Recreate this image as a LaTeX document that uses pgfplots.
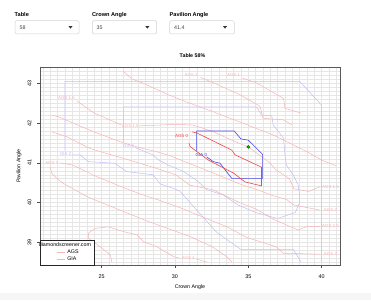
\documentclass[border=0pt]{standalone}
\usepackage{pgfplots}
\pgfplotsset{compat=1.18}
\usepackage{fontspec}
\setmainfont{Liberation Sans}
\definecolor{fr}{RGB}{247,180,180}
\definecolor{fb}{RGB}{192,192,245}
\definecolor{br}{RGB}{236,70,70}
\definecolor{bb}{RGB}{70,70,226}
\definecolor{gridc}{RGB}{230,230,230}
\definecolor{boxc}{RGB}{210,210,210}
\begin{document}
\begin{tikzpicture}
\begin{scope}[x=1pt,y=1pt]
\useasboundingbox (0,0) rectangle (371,300);
\fill[gray!7] (0,0) rectangle (371,7.5);
% widgets
\begin{scope}[every node/.style={inner sep=0pt}]
\node[anchor=west,font=\fontsize{5.6}{6}\selectfont\bfseries] at (14.5,285.2) {Table};
\node[anchor=west,font=\fontsize{5.6}{6}\selectfont\bfseries] at (92,285.2) {Crown Angle};
\node[anchor=west,font=\fontsize{5.6}{6}\selectfont\bfseries] at (169.5,285.2) {Pavilion Angle};
\draw[boxc,rounded corners=1.5pt,line width=0.5pt] (15,266) rectangle (79,279.3);
\draw[boxc,rounded corners=1.5pt,line width=0.5pt] (92.3,266) rectangle (156.7,279.3);
\draw[boxc,rounded corners=1.5pt,line width=0.5pt] (169.5,266) rectangle (234.3,279.3);
\node[anchor=west,font=\fontsize{5.3}{6}\selectfont,text=black!75] at (19.5,272.6) {58};
\node[anchor=west,font=\fontsize{5.3}{6}\selectfont,text=black!75] at (96.5,272.6) {35};
\node[anchor=west,font=\fontsize{5.3}{6}\selectfont,text=black!75] at (174,272.6) {41.4};
\fill[black!80] (68.5,273.8) -- (72.5,273.8) -- (70.5,271.4) -- cycle;
\fill[black!80] (145.3,273.8) -- (149.3,273.8) -- (147.3,271.4) -- cycle;
\fill[black!80] (223,273.8) -- (227,273.8) -- (225,271.4) -- cycle;
\node[font=\fontsize{5.3}{6}\selectfont\bfseries] at (192.5,244) {Table 58\%};
\end{scope}
\end{scope}
\begin{axis}[
  at={(40pt,35pt)}, anchor=south west, scale only axis,
  width=300pt, height=198pt,
  xmin=20.8, xmax=41.25, ymin=38.43, ymax=43.41,
  xtick={25,30,35,40}, ytick={39,40,41,42,43},
  minor xtick={21,21.5,...,41},
  minor ytick={38.5,38.6,...,43.35},
  grid=both,
  major grid style={gridc,line width=0.45pt},
  minor grid style={gridc,line width=0.45pt},
  tick align=outside, major tick length=3pt, minor tick length=0pt,
  xtick pos=lower, ytick pos=left,
  tick style={black!70,line width=0.4pt},
  axis line style={black!65,line width=0.6pt},
  /pgf/number format/assume math mode=true,
  ticklabel style={font=\fontsize{5.4}{6}\selectfont},
  xticklabel shift=3pt,
  yticklabel style={rotate=90,anchor=south},
  yticklabel shift=2pt,
  xlabel={Crown Angle}, ylabel={Pavilion Angle},
  xlabel style={font=\fontsize{5.3}{6}\selectfont, at={([yshift=-22.3pt]axis description cs:0.5,0)}, anchor=center},
  ylabel style={font=\fontsize{5.3}{6}\selectfont, at={([xshift=-21pt]axis description cs:0,0.5)}, anchor=center},
  legend style={at={(axis description cs:0,0)}, anchor=south west, draw=black!85, fill=white,
     font=\fontsize{5.3}{5.6}\selectfont, inner sep=0.8pt, row sep=-2.2pt, line width=0.5pt},
  legend cell align=left,
  legend image code/.code={\draw[#1,line width=0.6pt] (16pt,0pt) -- (24pt,0pt);},
]
\addlegendimage{empty legend}
\addlegendentry{\hspace*{-28.5pt}diamondscreener.com}
\addlegendimage{fr}
\addlegendentry{AGS}
\addlegendimage{fb}
\addlegendentry{GIA}

% faint GIA contours
\addplot[fb,line width=0.5pt,forget plot] coordinates {(40.0,38.5)(40.0,42.45)(38.5,43.05)(22.5,43.05)(22.5,41.32)};
\addplot[fb,line width=0.5pt,forget plot] coordinates {(23.0,41.2)(23.53,41.2)(24.1,41.03)(25.9,40.99)(26.7,40.78)(28.5,40.7)(29.0,40.47)(30.3,40.3)(32.85,39.25)(34.5,38.82)(38.07,38.82)(38.6,38.5)};
\addplot[fb,line width=0.5pt,forget plot] coordinates {(26.5,41.52)(26.5,42.41)(35.57,42.41)(35.9,42.2)(36.6,42.18)(36.7,41.95)(37.4,41.62)(37.5,41.2)(37.6,40.94)(38.07,40.69)(38.4,40.44)(38.5,40.2)(38.5,40.0)(38.2,39.75)(37.0,39.6)(35.5,39.75)(34.3,39.94)(33.3,40.19)(32.2,40.32)(31.5,40.55)(30.6,40.78)(29.5,40.95)(28.9,41.07)(28.5,41.2)(27.3,41.38)};

% faint AGS contours
\addplot[fr,line width=0.5pt,forget plot] coordinates {(26.5,43.3)(27.05,43.11)(27.85,43.0)(29.5,42.72)(31.0,42.5)(32.5,42.3)(34.4,42.03)(36.7,41.7)(39.0,41.28)(40.0,41.07)(41.0,40.92)};
\addplot[fr,line width=0.5pt,forget plot] coordinates {(31.75,43.15)(33.0,42.95)(34.4,42.72)(35.8,42.42)(36.0,42.12)(37.4,42.08)(38.0,41.95)};
\addplot[fr,line width=0.5pt,forget plot] coordinates {(34.6,43.13)(35.5,43.02)(37.4,42.62)(37.5,42.37)(38.6,42.25)};
\addplot[fr,line width=0.5pt,forget plot] coordinates {(23.3,42.56)(24.5,42.25)(25.0,42.17)(26.35,41.95)};
\addplot[fr,line width=0.5pt,forget plot] coordinates {(27.55,41.93)(29.0,41.95)(30.0,41.97)(31.2,41.95)(32.5,41.8)(34.0,41.55)(35.0,41.4)(36.4,41.02)(36.9,40.82)(37.8,40.6)(38.1,40.35)(39.1,40.28)(39.9,40.4)};
\addplot[fr,line width=0.5pt,forget plot] coordinates {(21.6,42.2)(22.05,42.16)(24.45,41.78)(26.5,41.5)(27.6,41.38)(28.75,41.28)(29.66,41.18)(31.0,40.98)(32.5,40.76)(34.4,40.47)(35.8,40.3)(36.7,40.17)(37.6,40.08)(38.1,39.94)(39.9,39.81)};
\addplot[fr,line width=0.5pt,forget plot] coordinates {(21.6,41.78)(22.6,41.66)(24.2,41.36)(26.5,41.11)(27.6,40.99)(28.75,40.86)(30.1,40.69)(31.0,40.44)(32.6,40.32)(34.4,40.0)(35.57,39.83)(36.7,39.58)(38.4,39.31)(39.0,39.4)(39.9,39.4)};
\addplot[fr,line width=0.5pt,forget plot] coordinates {(22.15,41.0)(23.07,40.94)(24.5,40.68)(26.0,40.45)(27.6,40.22)(29.0,40.05)(30.5,39.85)(32.0,39.62)(33.5,39.4)(34.9,39.12)(36.9,38.89)(37.4,38.72)(38.1,38.72)(39.9,38.7)};
\addplot[fr,line width=0.5pt,forget plot] coordinates {(21.5,40.9)(21.6,40.74)(21.94,40.61)(22.4,40.48)(24.0,40.15)(26.0,39.85)(28.0,39.55)(29.5,39.35)(31.0,39.15)(32.5,38.9)(33.5,38.65)(33.9,38.5)};
\addplot[fr,line width=0.5pt,forget plot] coordinates {(25.7,38.5)(25.6,38.68)(24.9,38.89)(24.1,39.1)(24.1,39.23)(24.55,39.35)(25.46,39.39)(26.5,39.27)(27.4,39.19)(27.85,39.02)(28.76,38.89)(29.9,38.64)(30.35,38.6)};
\addplot[fr,line width=0.5pt,forget plot] coordinates {(31.45,38.58)(32.2,38.5)};

% highlighted contours
\addplot[bb,line width=0.6pt,forget plot] coordinates {(32.16,41.15)(32.61,41.03)(33.07,40.99)(33.87,40.61)(35.98,40.61)(35.98,41.21)(35.0,41.57)(34.5,41.6)(34.04,41.80)(31.48,41.80)(31.48,41.3)};
\addplot[br,line width=0.6pt,forget plot] coordinates {(31.15,41.78)(31.5,41.75)(33.87,41.32)(34.1,41.2)(35.9,40.89)(35.9,40.42)(34.77,40.52)(34.0,40.74)(32.27,41.07)(31.03,41.41)(30.95,41.5)};

% selected point
\addplot[only marks,mark=*,mark size=1.5pt,mark options={fill=green!75!black,draw=green!35!black,line width=0.4pt},forget plot] coordinates {(35,41.4)};

% contour labels
\begin{scope}[every node/.style={font=\fontsize{4.4}{5}\selectfont,inner sep=0pt}]
\node[text=fr] at (axis cs:22.6,42.62) {AGS 1.5};
\node[text=fr] at (axis cs:26.95,41.93) {AGS 1.5};
\node[text=fr] at (axis cs:21.6,41.0) {AGS 3};
\node[text=fr] at (axis cs:31.1,43.2) {AGS 2};
\node[text=fr] at (axis cs:34.0,43.2) {AGS 1};
\node[text=fr] at (axis cs:40.6,40.4) {AGS 1.5};
\node[text=fr] at (axis cs:40.6,39.81) {AGS 2};
\node[text=fr] at (axis cs:40.6,39.4) {AGS 2.5};
\node[text=fr] at (axis cs:40.6,38.7) {AGS 3};
\node[text=fr] at (axis cs:30.9,38.6) {AGS 4};
\node[text=fb] at (axis cs:22.55,41.22) {GIA 2};
\node[text=fb] at (axis cs:26.85,41.42) {GIA 1};
\node[text=br] at (axis cs:30.45,41.68) {AGS 0};
\node[text=bb] at (axis cs:31.8,41.2) {GIA 0};
\end{scope}
\end{axis}
\end{tikzpicture}
\end{document}
